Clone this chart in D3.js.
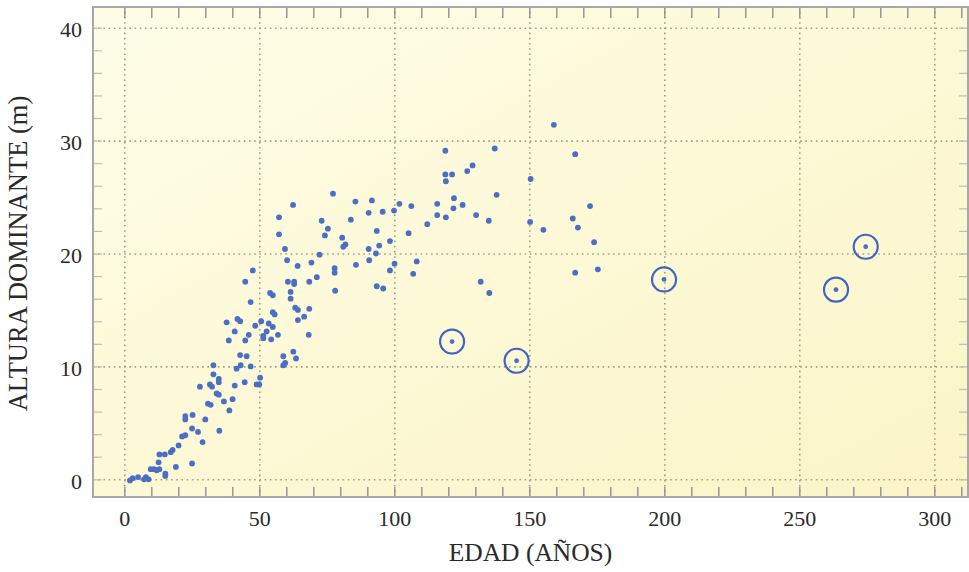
<!DOCTYPE html>
<html>
<head>
<meta charset="utf-8">
<script src="https://cdn.jsdelivr.net/npm/d3@7/dist/d3.min.js"></script>
<style>
  html, body { margin: 0; padding: 0; background: #ffffff; }
  svg { display: block; }
  text { font-family: "Liberation Serif", "Times New Roman", serif; fill: #2a2a2a; }
</style>
</head>
<body>
<svg id="chart" width="969" height="572"></svg>
<script>
// Stand age (years) and dominant height (m) for each plot
const ages = [
  2.1, 3.1, 5.1, 7.3, 8.0, 9.0, 9.8, 11.0, 12.0, 12.7, 13.0, 13.0, 15.0, 15.2, 15.2,
  17.2, 17.9, 19.1, 20.1, 21.4, 22.6, 22.6, 22.6, 25.1, 25.1, 25.3, 27.3, 28.0, 29.0, 30.0,
  31.0, 31.7, 32.0, 32.5, 33.0, 33.0, 34.2, 35.0, 35.0, 35.0, 35.2, 36.9, 37.9, 38.7, 38.9,
  40.1, 40.9, 40.9, 41.6, 41.9, 42.9, 42.9, 43.1, 44.6, 44.8, 44.8, 45.3, 46.1, 46.8, 46.8,
  47.6, 48.5, 49.0, 50.0, 50.3, 50.7, 51.5, 51.5, 52.7, 53.5, 54.0, 54.4, 55.0, 55.0, 55.0,
  55.7, 56.9, 58.9, 58.9, 59.6, 60.3, 60.6, 61.6, 61.6, 62.6, 62.9, 62.9, 63.3, 63.6, 64.3,
  64.2, 64.3, 66.6, 68.3, 68.5, 68.5, 69.3, 71.3, 72.3, 62.5, 57.3, 57.3, 59.5, 73.1, 75.4,
  74.3, 159.1, 118.9, 137.2, 167.0, 118.9, 121.4, 119.1, 127.0, 129.0, 150.5, 77.3, 137.9, 85.6, 91.7,
  90.5, 95.7, 99.9, 101.9, 106.3, 115.9, 122.1, 121.9, 125.3, 115.9, 119.1, 130.3, 135.0, 112.2, 105.3,
  150.3, 155.2, 166.1, 172.5, 168.0, 174.0, 167.0, 175.4, 83.9, 80.7, 81.1, 81.9, 93.5, 90.5, 94.4,
  93.2, 98.4, 77.9, 77.9, 78.1, 85.8, 90.7, 100.1, 98.4, 108.3, 107.0, 93.5, 95.9, 132.0, 135.2
];
const heights = [
  -0.1, 0.1, 0.2, 0.0, 0.2, 0.0, 0.9, 0.9, 0.8, 1.5, 0.9, 2.2, 2.2, 0.5, 0.3,
  2.4, 2.6, 1.1, 3.0, 3.8, 3.9, 5.6, 5.3, 1.4, 4.5, 5.7, 4.2, 8.2, 3.3, 5.3,
  6.7, 8.4, 6.6, 8.2, 9.3, 10.1, 7.6, 7.5, 8.9, 8.6, 4.3, 6.9, 13.9, 12.3, 6.1,
  7.1, 8.3, 13.1, 9.8, 14.2, 14.0, 11.0, 10.1, 8.6, 12.3, 17.5, 10.9, 12.8, 10.0, 15.7,
  18.5, 13.6, 8.4, 8.4, 9.0, 14.0, 12.7, 12.5, 13.1, 13.8, 16.5, 12.4, 16.3, 13.5, 14.8,
  14.6, 12.8, 10.9, 10.1, 10.3, 19.4, 17.5, 16.6, 16.0, 11.3, 17.5, 17.3, 15.2, 10.7, 15.0,
  18.9, 14.1, 14.4, 12.8, 17.5, 15.1, 19.2, 17.9, 19.9, 24.3, 23.2, 21.7, 20.4, 22.9, 22.2,
  21.6, 31.4, 29.1, 29.3, 28.8, 27.0, 27.0, 26.4, 27.3, 27.8, 26.6, 25.3, 25.2, 24.6, 24.7,
  23.6, 23.7, 23.8, 24.4, 24.2, 24.4, 24.9, 24.0, 24.3, 23.4, 23.2, 23.4, 22.9, 22.6, 21.8,
  22.8, 22.1, 23.1, 24.2, 22.3, 21.0, 18.3, 18.6, 23.0, 21.4, 20.6, 20.8, 22.0, 20.4, 20.7,
  20.0, 21.1, 18.7, 18.3, 16.7, 19.0, 19.4, 19.1, 18.5, 19.3, 18.2, 17.1, 16.9, 17.5, 16.5
];
// Plots marked with a ring
const ringAges = [121.4, 145.3, 199.9, 263.6, 274.6];
const ringHeights = [12.2, 10.5, 17.7, 16.8, 20.6];

const xMajor = [0, 50, 100, 150, 200, 250, 300];
const yMajor = [0, 10, 20, 30, 40];
const xMinor = d3.range(0, 311, 10);
const yMinor = d3.range(0, 41, 2);

const xTitle = "EDAD (AÑOS)";
const yTitle = "ALTURA DOMINANTE (m)";

// Layout
const frame = { left: 93, right: 968, top: 7, bottom: 497 };
const x = d3.scaleLinear().domain([0, 300]).range([124.3, 934.3]);
const y = d3.scaleLinear().domain([0, 40]).range([479.3, 27.7]);

const svg = d3.select("#chart");

const defs = svg.append("defs");
const grad = defs.append("linearGradient")
  .attr("id", "bg").attr("x1", "0").attr("y1", "0").attr("x2", "1").attr("y2", "1");
grad.append("stop").attr("offset", "0").attr("stop-color", "#fefde8");
grad.append("stop").attr("offset", "0.5").attr("stop-color", "#fdf9d7");
grad.append("stop").attr("offset", "1").attr("stop-color", "#fbf4c8");

// Plot panel
svg.append("rect")
  .attr("x", frame.left).attr("y", frame.top)
  .attr("width", frame.right - frame.left).attr("height", frame.bottom - frame.top)
  .attr("fill", "url(#bg)");

// Dotted grid
const gridStyle = g => {
  g.select(".domain").remove();
  g.selectAll(".tick text").remove();
  g.selectAll(".tick line")
    .attr("stroke", "#a29d86").attr("stroke-width", 1.6)
    .attr("stroke-dasharray", "1.6,3.6");
};
svg.append("g")
  .attr("transform", `translate(0,${frame.bottom})`)
  .call(d3.axisBottom(x).tickValues(xMajor).tickSize(-(frame.bottom - frame.top)))
  .call(gridStyle);
svg.append("g")
  .attr("transform", `translate(${frame.left},0)`)
  .call(d3.axisLeft(y).tickValues(yMajor).tickSize(-(frame.right - frame.left)))
  .call(gridStyle);

// Minor tick marks along each edge
const minorStyle = (color, w) => g => {
  g.select(".domain").remove();
  g.selectAll(".tick text").remove();
  g.selectAll(".tick line").attr("stroke", color).attr("stroke-width", w);
};
svg.append("g")
  .attr("transform", `translate(0,${frame.bottom})`)
  .call(d3.axisBottom(x).tickValues(xMinor).tickSize(-10))
  .call(minorStyle("#8f8f8f", 1.4));
svg.append("g")
  .attr("transform", `translate(0,${frame.top})`)
  .call(d3.axisTop(x).tickValues(xMinor).tickSize(-11))
  .call(minorStyle("#8f8f8f", 1.4));
svg.append("g")
  .attr("transform", `translate(${frame.left},0)`)
  .call(d3.axisLeft(y).tickValues(yMinor).tickSize(-9))
  .call(minorStyle("#bdbdb4", 1.2));
svg.append("g")
  .attr("transform", `translate(${frame.right},0)`)
  .call(d3.axisRight(y).tickValues(yMinor).tickSize(-9))
  .call(minorStyle("#bdbdb4", 1.2));

// Panel border
svg.append("rect")
  .attr("x", frame.left).attr("y", frame.top)
  .attr("width", frame.right - frame.left).attr("height", frame.bottom - frame.top)
  .attr("fill", "none").attr("stroke", "#a8a8a8").attr("stroke-width", 2);

// Tick labels
const labelStyle = g => {
  g.select(".domain").remove();
  g.selectAll(".tick line").remove();
  g.selectAll(".tick text")
    .attr("font-family", '"Liberation Serif", "Times New Roman", serif')
    .attr("font-size", 22).attr("fill", "#2a2a2a");
};
svg.append("g")
  .attr("transform", `translate(0,${frame.bottom})`)
  .call(d3.axisBottom(x).tickValues(xMajor).tickSize(0).tickPadding(13))
  .call(labelStyle);
svg.append("g")
  .attr("transform", `translate(${frame.left},0)`)
  .call(d3.axisLeft(y).tickValues(yMajor).tickSize(0).tickPadding(11))
  .call(labelStyle)
  .call(g => g.selectAll(".tick text").attr("dy", "0.42em"));

// Axis titles
svg.append("text")
  .attr("x", (frame.left + frame.right) / 2).attr("y", 561)
  .attr("text-anchor", "middle").attr("font-size", 25.5)
  .text(xTitle);
svg.append("text")
  .attr("transform", `translate(27,${253.5}) rotate(-90)`)
  .attr("text-anchor", "middle").attr("font-size", 26.5)
  .text(yTitle);

// Points
const pts = ages.map((a, i) => ({ a, h: heights[i] }));
svg.append("g").selectAll("circle").data(pts).join("circle")
  .attr("cx", d => x(d.a)).attr("cy", d => y(d.h))
  .attr("r", 2.9).attr("fill", "#4a6fc5");

// Ringed points
const rings = ringAges.map((a, i) => ({ a, h: ringHeights[i] }));
const rg = svg.append("g");
rg.selectAll("circle.ring").data(rings).join("circle")
  .attr("class", "ring")
  .attr("cx", d => x(d.a)).attr("cy", d => y(d.h))
  .attr("r", 12).attr("fill", "none")
  .attr("stroke", "#3f64c2").attr("stroke-width", 2.2);
rg.selectAll("circle.dot").data(rings).join("circle")
  .attr("class", "dot")
  .attr("cx", d => x(d.a)).attr("cy", d => y(d.h))
  .attr("r", 2.4).attr("fill", "#4a6fc5");
</script>
</body>
</html>
